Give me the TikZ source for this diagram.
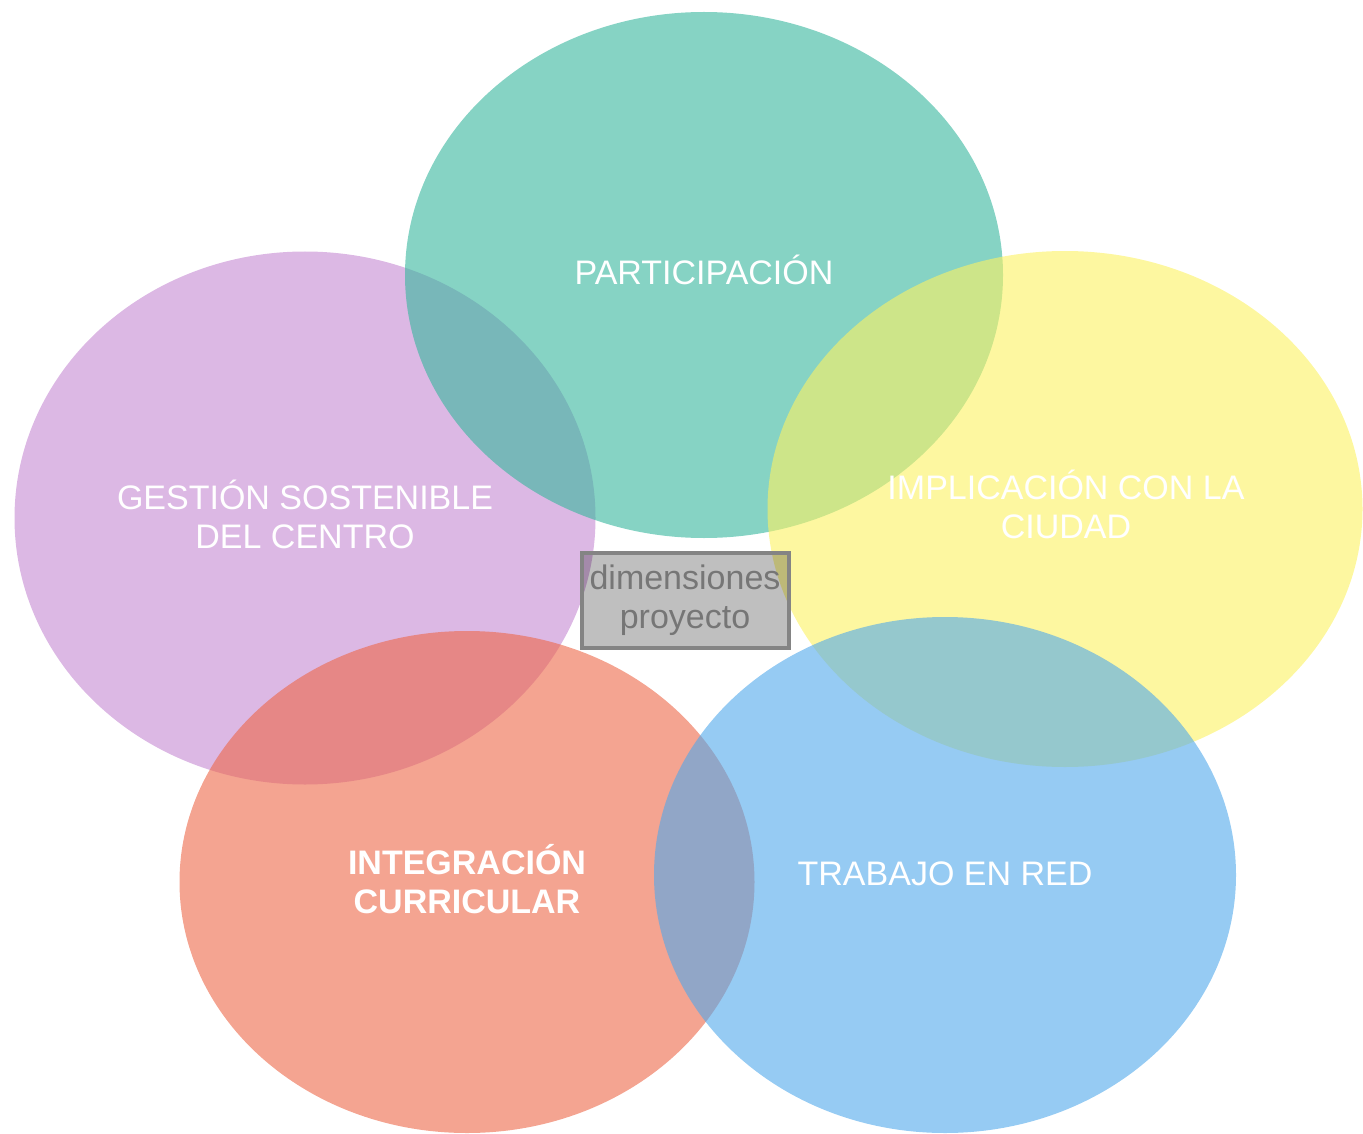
\documentclass[tikz,border=0pt]{standalone}
\usepackage{fontspec}
\setmainfont{Liberation Sans}
\usetikzlibrary{shapes.geometric}

\definecolor{tealc}{RGB}{53,182,157}
\definecolor{purplec}{RGB}{197,137,210}
\definecolor{yellowc}{RGB}{252,242,97}
\definecolor{redc}{RGB}{237,103,72}
\definecolor{bluec}{RGB}{80,168,235}
\definecolor{labelgray}{RGB}{118,118,118}

\begin{document}
\begin{tikzpicture}
                [
                x=1pt, y=-1pt,
                every node/.style={inner sep=0pt, align=center, font=\fontsize{34}{39}\selectfont},
                bubble/.style={ellipse, fill opacity=0.6},
                title/.style={text=white},
                centrebox/.style={rectangle, draw=labelgray!90, line width=4pt, fill=black, fill opacity=0.25,
                  text opacity=1, text=labelgray, minimum width=207pt, minimum height=95pt}
                ]
                \useasboundingbox (0,0) rectangle (1363,1134);
                % Dimension bubbles
                \node (gestion) [bubble, fill=purplec, minimum width=581pt, minimum height=533pt] at (305,518) {};
                \node (participacion) [bubble, fill=tealc, minimum width=598pt, minimum height=526pt] at (704,275) {};
                \node (implicacion) [bubble, fill=yellowc, minimum width=595pt, minimum height=516pt] at (1065,509) {};
                \node (integracion) [bubble, fill=redc, minimum width=575pt, minimum height=502pt] at (467,882) {};
                \node (trabajo) [bubble, fill=bluec, minimum width=582pt, minimum height=516pt] at (945,875) {};
                % Titles
                \node (gestiontxt) [title] at (305,514) {GESTIÓN SOSTENIBLE\\DEL CENTRO};
                \node (participaciontxt) [title] at (704,270) {PARTICIPACIÓN};
                \node (implicaciontxt) [title] at (1066,504) {IMPLICACIÓN CON LA\\CIUDAD};
                \node (integraciontxt) [title, font=\fontsize{34}{39}\selectfont\bfseries] at (467,879) {INTEGRACIÓN\\CURRICULAR};
                \node (trabajotxt) [title] at (945,874) {TRABAJO EN RED};
                % Centre label
                \node (dimensiones) [centrebox] at (685,600) {dimensiones\\proyecto};
            \end{tikzpicture}
\end{document}
